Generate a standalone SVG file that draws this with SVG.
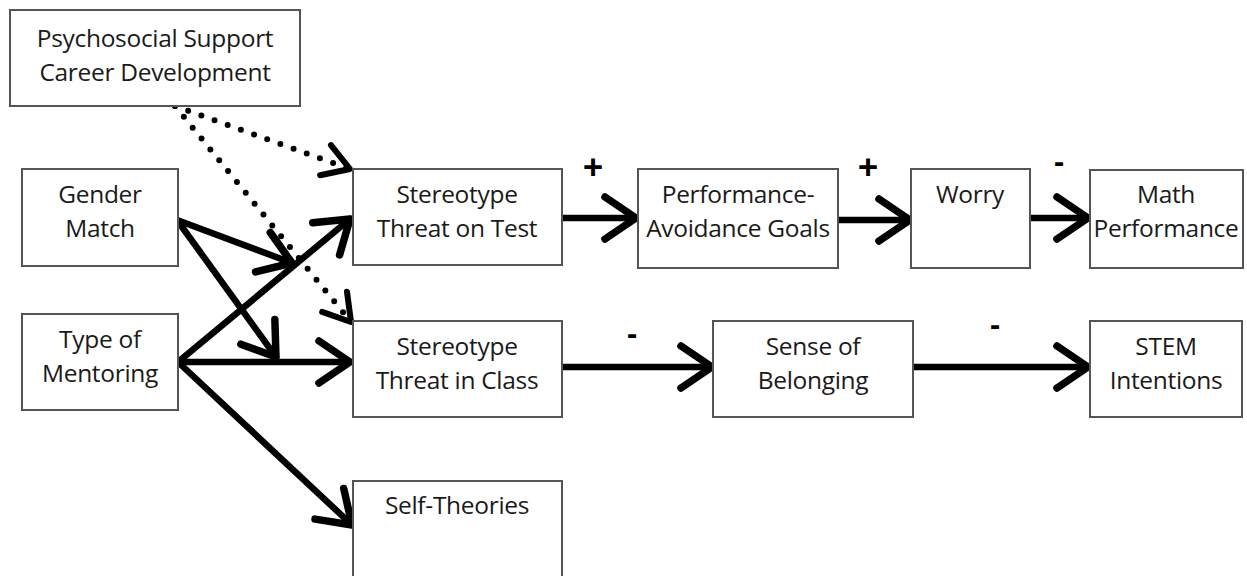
<svg xmlns="http://www.w3.org/2000/svg" width="1247" height="576" viewBox="0 0 1247 576">
<style>
.box{fill:#fff;stroke:#555;stroke-width:2}
.t{font-family:"Open Sans","Noto Sans",sans-serif;font-size:24.5px;fill:#1a1a1a;text-anchor:middle;letter-spacing:-0.3px}
.s{font-family:"Open Sans","Noto Sans",sans-serif;fill:#000;text-anchor:middle;font-weight:bold}
.a{stroke:#000;stroke-width:6.5;fill:none;stroke-linecap:round}
.d{stroke:#000;stroke-width:6;fill:none;stroke-linecap:round;stroke-dasharray:0 14}
</style>
<defs>
<marker id="ah" markerUnits="userSpaceOnUse" orient="auto" refX="0" refY="0" markerWidth="60" markerHeight="60" viewBox="-40 -30 50 60" overflow="visible">
<path d="M-31,-21 L0,0 L-31,21" fill="none" stroke="#000" stroke-width="7.5" stroke-linecap="round" stroke-linejoin="round"/>
</marker>
<marker id="ahd" markerUnits="userSpaceOnUse" orient="auto" refX="0" refY="0" markerWidth="60" markerHeight="60" viewBox="-40 -30 50 60" overflow="visible">
<path d="M-26,-16 L0,0 L-26,16" fill="none" stroke="#000" stroke-width="6" stroke-linecap="round" stroke-linejoin="round"/>
</marker>
</defs>

<g id="connectors">
<line class="d" x1="175" y1="106" x2="350" y2="169" marker-end="url(#ahd)"/>
<line class="d" x1="175" y1="106" x2="351" y2="322" marker-end="url(#ahd)"/>
<line class="a" x1="177" y1="220" x2="292" y2="263" marker-end="url(#ah)"/>
<line class="a" x1="177" y1="220" x2="276" y2="357" marker-end="url(#ah)"/>
<line class="a" x1="178" y1="362" x2="350" y2="219" marker-end="url(#ah)"/>
<line class="a" x1="178" y1="362" x2="350" y2="362" marker-end="url(#ah)"/>
<line class="a" x1="178" y1="362" x2="352" y2="525" marker-end="url(#ah)"/>
<line class="a" x1="563" y1="218" x2="636" y2="218" marker-end="url(#ah)"/>
<line class="a" x1="839" y1="220" x2="910" y2="220" marker-end="url(#ah)"/>
<line class="a" x1="1031" y1="218" x2="1088" y2="218" marker-end="url(#ah)"/>
<line class="a" x1="563" y1="367" x2="712" y2="367" marker-end="url(#ah)"/>
<line class="a" x1="914" y1="367" x2="1088" y2="367" marker-end="url(#ah)"/>
</g>

<g id="signs">
<text class="s" x="593" y="180" font-size="36">+</text>
<text class="s" x="868" y="180" font-size="36">+</text>
<text class="s" x="1059" y="172" font-size="30">-</text>
<text class="s" x="632" y="344" font-size="30">-</text>
<text class="s" x="995" y="335" font-size="30">-</text>
</g>

<g id="psychosocial">
<rect class="box" x="10" y="10" width="290" height="96"/>
<text class="t" x="155" y="47">Psychosocial Support</text>
<text class="t" x="155" y="81">Career Development</text>
</g>
<g id="gender">
<rect class="box" x="22" y="169" width="156" height="97"/>
<text class="t" x="100" y="203">Gender</text>
<text class="t" x="100" y="237">Match</text>
</g>
<g id="mentoring">
<rect class="box" x="22" y="314" width="156" height="96"/>
<text class="t" x="100" y="348">Type of</text>
<text class="t" x="100" y="382">Mentoring</text>
</g>
<g id="threat-test">
<rect class="box" x="353" y="169" width="209" height="96"/>
<text class="t" x="457" y="203">Stereotype</text>
<text class="t" x="457" y="237">Threat on Test</text>
</g>
<g id="pag">
<rect class="box" x="638" y="169" width="200" height="99"/>
<text class="t" x="738" y="203">Performance-</text>
<text class="t" x="738" y="237">Avoidance Goals</text>
</g>
<g id="worry">
<rect class="box" x="911" y="169" width="119" height="99"/>
<text class="t" x="970" y="203">Worry</text>
</g>
<g id="math">
<rect class="box" x="1090" y="170" width="153" height="98"/>
<text class="t" x="1166" y="203">Math</text>
<text class="t" x="1166" y="237">Performance</text>
</g>
<g id="threat-class">
<rect class="box" x="353" y="321" width="209" height="96"/>
<text class="t" x="457" y="355">Stereotype</text>
<text class="t" x="457" y="389">Threat in Class</text>
</g>
<g id="belonging">
<rect class="box" x="713" y="321" width="200" height="96"/>
<text class="t" x="813" y="355">Sense of</text>
<text class="t" x="813" y="389">Belonging</text>
</g>
<g id="stem">
<rect class="box" x="1090" y="321" width="152" height="96"/>
<text class="t" x="1166" y="355">STEM</text>
<text class="t" x="1166" y="389">Intentions</text>
</g>
<g id="self-theories">
<rect class="box" x="353" y="481" width="209" height="100"/>
<text class="t" x="457" y="514">Self-Theories</text>
</g>
</svg>
